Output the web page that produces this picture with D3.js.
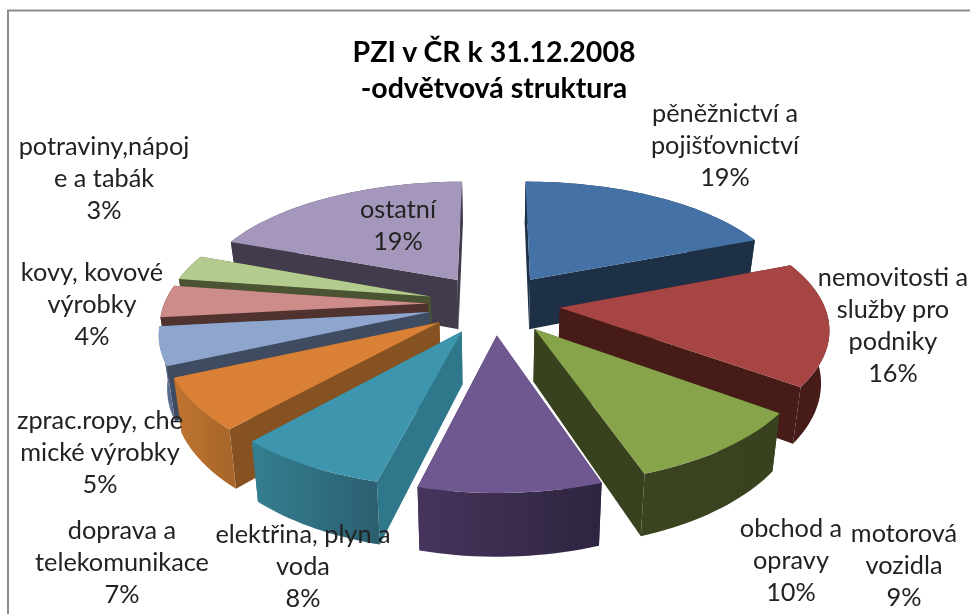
<!DOCTYPE html>
<html><head><meta charset="utf-8">
<script src="https://cdn.jsdelivr.net/npm/d3@7/dist/d3.min.js"></script>
<style>html,body{margin:0;padding:0;background:#fff}svg{display:block;filter:blur(0.45px)}</style>
</head><body><svg id="c" width="970" height="614"></svg>
<script>
const categories = ["pěněžnictví a\npojišťovnictví","nemovitosti a\nslužby pro\npodniky","obchod a\nopravy","motorová\nvozidla","elektřina, plyn a\nvoda","doprava a\ntelekomunikace","zprac.ropy, che\nmické výrobky","kovy, kovové\nvýrobky","potraviny,nápoj\ne a tabák","ostatní"];
const values = [19,16,9.7,9.3,7.7,6.6,4.9,4.2,3.35,19.25];
const titleLines = ["PZI v ČR k 31.12.2008","-odvětvová struktura"];

const topColors = ["#4472A7","#A64543","#87A44B","#6F5790","#3D96AE","#DA8137","#8EA5CD","#CD8C8A","#B4CB8F","#A597BB"];
const faceColors = ["#1D3046","#471B18","#38421F","#3F3055","#2F788C","#875221","#3E4B60","#50322F","#4A5432","#423B4C"];
const rimLeft = ["#1D3046","#471B18","#3A4420","#46345C","#347F91","#C07530","#7C92B8","#50322F","#4A5432","#423B4C"];
const rimRight = ["#1D3046","#471B18","#38421F","#2E2440","#2B6070","#A8662A","#5A6C8E","#50322F","#4A5432","#423B4C"];
const labelAnchors = [[725,113],[893,277],[791,528],[904,533],[303,534],[122,530],[100,420],[92,272],[104,146],[398,209]];

const W=970,H=614,cx=494,cy=304,halfW=264,halfD=121,perspY=0.16,perspX=0.145,explode=0.25,thick=51,shrink=0.025;
const xS=d3.scaleLinear().domain([-1,1]).range([cx-halfW,cx+halfW]);
const yS=d3.scaleLinear().domain([-1,1]).range([cy+halfD,cy-halfD]);
const svg=d3.select("#c");
svg.append("path").attr("d",`M8 ${H}V10.5H${W}`).attr("fill","none").attr("stroke","#8c8c8c").attr("stroke-width",2);
const defs=svg.append("defs");

function proj(x,z,h){const sx=1/(1+perspX*z), s=1/(1+perspY*z);return [xS(x*sx*(1-shrink*h)), yS(z*s)+thick*h*s];}
const pie=d3.pie().sort(null).value(d=>d).startAngle(0).endAngle(2*Math.PI);
const arcs=pie(values).map((p,i)=>({...p,i,mid:(p.startAngle+p.endAngle)/2}));
const line=d3.line();
function geom(d){
  const ox=explode*Math.sin(d.mid), oz=explode*Math.cos(d.mid);
  const n=Math.max(2,Math.ceil((d.endAngle-d.startAngle)/0.03));
  const ang=d3.range(n+1).map(k=>d.startAngle+(d.endAngle-d.startAngle)*k/n);
  const rim=h=>ang.map(a=>proj(ox+Math.sin(a),oz+Math.cos(a),h));
  return {apex:h=>proj(ox,oz,h),rim};
}
arcs.sort((a,b)=>Math.cos(b.mid)-Math.cos(a.mid)).forEach(d=>{
  const g=geom(d), rt=g.rim(0), rb=g.rim(1), i=d.i, gs=svg.append("g");
  const closed=p=>line(p)+"Z";
  [[rt[0],rb[0]],[rt[rt.length-1],rb[rb.length-1]]].forEach(([a,b])=>{
    gs.append("path").attr("d",closed([g.apex(0),a,b,g.apex(1)])).attr("fill",faceColors[i]);
  });
  const xs=d3.extent(rt,p=>p[0]);
  const gr=defs.append("linearGradient").attr("id","r"+i).attr("gradientUnits","userSpaceOnUse")
    .attr("x1",xs[0]).attr("x2",xs[1]).attr("y1",0).attr("y2",0);
  gr.append("stop").attr("offset",0).attr("stop-color",rimLeft[i]);
  gr.append("stop").attr("offset",1).attr("stop-color",rimRight[i]);
  gs.append("path").attr("d",closed(rt.concat(rb.slice().reverse()))).attr("fill",`url(#r${i})`);
  gs.append("path").attr("d",closed([g.apex(0),...rt])).attr("fill",topColors[i]);
});

const font="Lato, Carlito, sans-serif";
titleLines.forEach((t,k)=>svg.append("text").attr("x",494).attr("y",62+k*36).attr("text-anchor","middle")
  .attr("font-family",font).attr("font-weight",700).attr("font-size",28.5).attr("fill","#000").text(t));
const pct=d3.format(".0%"), tot=d3.sum(values);
categories.forEach((c,i)=>{
  const lines=c.split("\n").concat(pct(values[i]/tot));
  const t=svg.append("text").attr("font-family",font).attr("font-size",25.3).attr("fill","#222").attr("text-anchor","middle");
  lines.forEach((l,k)=>t.append("tspan").attr("x",labelAnchors[i][0]).attr("y",labelAnchors[i][1]+9+k*32).text(l));
});
</script></body></html>
